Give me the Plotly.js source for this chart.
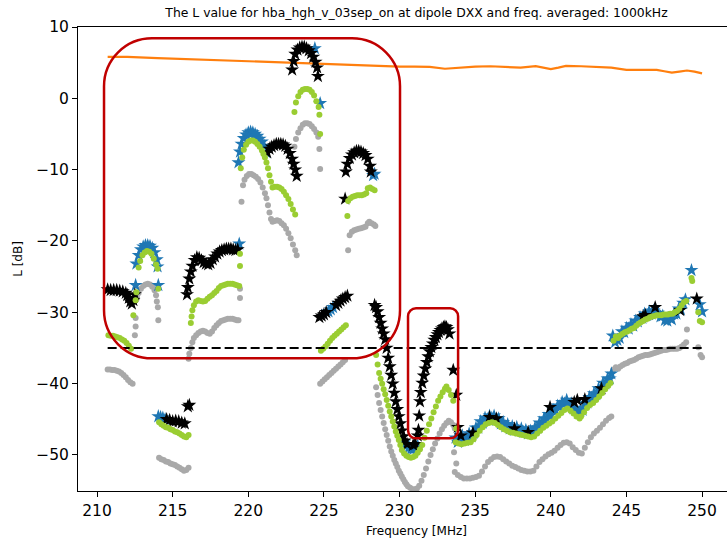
<!DOCTYPE html>
<html>
<head>
<meta charset="utf-8">
<script src="https://cdn.plot.ly/plotly-3.0.1.min.js"></script>
<style>
html, body { margin: 0; padding: 0; overflow: hidden; background: #fff; }
#chart { width: 760px; height: 545px; }
</style>
</head>
<body>
<div id="chart"></div>
<script>
// ---- measured L values [dB] versus frequency [MHz] ----

// reference level (orange)
const refFreq = [210.7, 212, 214, 216, 218, 220, 222, 224, 226, 228, 230, 231, 232, 233, 234, 235, 236, 237, 238, 239, 240, 240.5, 241, 242, 243, 244, 245, 246, 247, 247.5, 248, 248.5, 249, 249.5, 250];
const refL = [5.8, 5.8, 5.65, 5.5, 5.35, 5.2, 5.0, 4.85, 4.7, 4.55, 4.45, 4.45, 4.4, 4.15, 4.35, 4.45, 4.5, 4.45, 4.3, 4.5, 4.1, 4.3, 4.55, 4.5, 4.4, 4.3, 4.0, 4.05, 4.0, 3.8, 3.6, 3.75, 3.9, 3.75, 3.5];

// threshold (dashed)
const limitFreq = [210.7, 250.0];
const limitL = [-35, -35];

// gray points
const grayFreq = [
  210.7, 210.85, 211.0, 211.15, 211.3, 211.45, 211.6, 211.75, 211.9, 212.05, 212.2, 212.35,
  212.55, 212.55, 212.5,
  212.65, 212.75, 212.9, 213.05, 213.2, 213.35, 213.5, 213.65, 213.8, 213.9, 213.95, 214.02, 214.05,
  214.1, 214.25, 214.4, 214.55, 214.7, 214.85, 215.0, 215.15, 215.3, 215.45, 215.6, 215.75, 215.9, 216.05,
  216.05, 216.1, 216.2, 216.3, 216.4, 216.55, 216.7, 216.85, 217.0, 217.15, 217.3, 217.45, 217.6, 217.75, 217.9, 218.05, 218.2, 218.35, 218.5, 218.65, 218.8, 218.95, 219.1, 219.25, 219.35, 219.45, 219.45,
  219.55, 219.65, 219.75, 219.9, 220.05, 220.2, 220.35, 220.5, 220.65, 220.8, 220.95, 221.1, 221.2, 221.3, 221.4, 221.5, 221.6, 221.75, 221.9, 222.05, 222.2, 222.35, 222.5, 222.65, 222.8, 222.95, 223.1, 223.2,
  223.05, 223.15, 223.3, 223.45, 223.6, 223.75, 223.9, 224.05, 224.2, 224.35, 224.5, 224.62, 224.7, 224.75,
  224.75, 224.9, 225.05, 225.2, 225.35, 225.5, 225.65, 225.8, 225.95, 226.1, 226.25, 226.4,
  226.6, 226.7, 226.85, 227.0, 227.15, 227.3, 227.45, 227.6, 227.75, 227.9, 228.0, 228.15, 228.3, 228.4,
  228.45, 228.55, 228.65, 228.75, 228.85, 228.95, 229.05, 229.15, 229.25, 229.35, 229.45, 229.55, 229.65, 229.75, 229.85, 229.95, 230.05, 230.15, 230.25, 230.35, 230.45, 230.55, 230.7, 230.85, 231.0, 231.15, 231.3, 231.45, 231.6, 231.75, 231.9, 232.05, 232.2, 232.35, 232.5, 232.65, 232.8, 232.95, 233.1, 233.25, 233.4, 233.55, 233.65, 233.6, 233.75,
  233.65, 233.85, 234.05, 234.25, 234.45, 234.65, 234.85, 235.05, 235.25, 235.45, 235.65, 235.85, 236.05, 236.25, 236.45, 236.65, 236.85, 237.05, 237.25, 237.45, 237.65, 237.85, 238.05, 238.25, 238.45, 238.65, 238.85, 239.05, 239.25, 239.45, 239.65, 239.85, 240.05, 240.25, 240.45, 240.65, 240.85, 241.05, 241.25, 241.45, 241.65, 241.85, 242.05, 242.25, 242.45, 242.65, 242.85, 243.05, 243.25, 243.45, 243.65, 243.85, 244.0,
  244.15, 244.3, 244.45, 244.6, 244.75, 244.9, 245.05, 245.2, 245.35, 245.5, 245.65, 245.8, 245.95, 246.1, 246.25, 246.4, 246.55, 246.7, 246.85, 247.0, 247.15, 247.3, 247.45, 247.6, 247.75, 247.9, 248.05, 248.2, 248.35, 248.5, 248.65, 248.8, 248.95, 249.0, 249.75, 249.9, 250.0
];
const grayL = [
  -38.0, -38.0, -38.1, -38.1, -38.2, -38.3, -38.5, -38.8, -39.1, -39.5, -39.8, -40.0,
  -30.8, -32.0, -33.2,
  -28.0, -27.3, -26.7, -26.3, -26.1, -26.0, -26.1, -26.4, -26.9, -27.6, -28.5, -29.3, -31.1,
  -50.4, -50.6, -50.7, -50.9, -51.0, -51.2, -51.3, -51.4, -51.6, -51.8, -52.0, -52.2, -52.1, -51.8,
  -36.5, -35.8, -35.0, -34.2, -33.6, -33.2, -32.9, -32.7, -32.6, -32.7, -32.9, -33.0, -32.7, -32.2, -31.8, -31.5, -31.2, -31.1, -31.0, -30.9, -30.9, -30.9, -31.0, -31.1, -31.1, -28.0, -26.7,
  -14.5, -12.2, -11.4, -10.9, -10.6, -10.6, -10.8, -11.0, -11.3, -11.8, -12.5, -13.3, -14.0, -15.0, -16.0, -16.9, -17.3, -17.2, -17.1, -17.2, -17.5, -17.8, -18.3, -18.9, -19.6, -20.5, -21.3, -22.0,
  -6.8, -5.7, -4.8, -4.2, -3.7, -3.5, -3.5, -3.6, -3.9, -4.3, -4.8, -5.4, -7.1, -9.9,
  -40.0, -39.7, -39.4, -39.1, -38.8, -38.5, -38.2, -37.9, -37.6, -37.3, -37.0, -36.7,
  -21.3, -19.2, -18.7, -18.5, -18.4, -18.3, -18.2, -18.1, -18.0, -17.5, -17.3, -17.5, -17.7, -17.9,
  -40.5, -41.6, -42.7, -43.7, -44.6, -45.5, -46.4, -47.2, -48.0, -48.8, -49.5, -50.1, -50.7, -51.2, -51.7, -52.2, -52.6, -53.0, -53.4, -53.8, -54.1, -54.4, -54.6, -54.8, -54.8, -54.7, -54.3, -53.6, -52.8, -51.9, -50.9, -50.0, -49.2, -48.4, -47.7, -47.0, -46.4, -45.9, -45.5, -45.2, -45.4, -45.8, -46.3, -49.6, -51.2,
  -52.4, -52.8, -53.1, -53.3, -53.3, -53.3, -53.2, -53.1, -52.9, -52.3, -51.6, -51.0, -50.6, -50.3, -50.2, -50.3, -50.6, -50.9, -51.2, -51.5, -51.7, -51.9, -52.1, -52.2, -52.3, -52.3, -52.2, -51.6, -51.0, -50.6, -50.2, -49.9, -49.7, -49.4, -49.0, -48.6, -48.3, -48.2, -48.4, -48.9, -49.3, -49.7, -49.8, -49.0, -48.2, -47.5, -47.0, -46.6, -46.2, -45.7, -45.2, -44.8, -44.6,
  -38.0, -37.7, -37.9, -37.6, -37.4, -37.2, -37.1, -36.9, -36.8, -36.7, -36.5, -36.3, -36.2, -36.1, -36.0, -36.0, -35.9, -35.8, -35.7, -35.6, -35.5, -35.4, -35.3, -35.3, -35.2, -35.1, -35.1, -35.1, -35.1, -35.0, -34.8, -34.5, -34.2, -32.4, -34.9, -36.0, -36.3
];

// green points
const greenFreq = [
  210.75, 210.9, 211.05, 211.2, 211.35, 211.5, 211.65, 211.8, 211.95, 212.1, 212.25,
  212.4, 212.55, 212.6,
  212.75, 212.85, 213.0, 213.15, 213.3, 213.45, 213.6, 213.75, 213.9, 214.0, 214.05,
  214.1, 214.25, 214.4, 214.55, 214.7, 214.85, 215.0, 215.15, 215.3, 215.45, 215.6, 215.75, 215.9, 216.05,
  216.2, 216.25, 216.3, 216.4, 216.55, 216.7, 216.85, 217.0, 217.15, 217.3, 217.45, 217.6, 217.75, 217.9, 218.05, 218.2, 218.35, 218.5, 218.65, 218.8, 218.95, 219.1, 219.25, 219.4, 219.45, 219.45,
  219.5, 219.6, 219.7, 219.85, 220.0, 220.15, 220.3, 220.45, 220.6, 220.75, 220.9, 221.0, 221.1, 221.2, 221.3, 221.4, 221.5, 221.6, 221.75, 221.9, 222.05, 222.2, 222.35, 222.5, 222.65, 222.8, 222.95, 223.1,
  223.05, 223.15, 223.3, 223.45, 223.6, 223.75, 223.9, 224.05, 224.2, 224.35, 224.5, 224.65, 224.7, 224.75,
  224.8, 224.95, 225.1, 225.25, 225.4, 225.55, 225.7, 225.85, 226.0, 226.15, 226.3, 226.45,
  226.55, 226.6, 226.75, 226.9, 227.05, 227.2, 227.35, 227.5, 227.65, 227.8, 227.9, 228.05, 228.2, 228.35,
  228.45, 228.55, 228.65, 228.75, 228.85, 228.95, 229.05, 229.15, 229.25, 229.35, 229.45, 229.55, 229.65, 229.75, 229.85, 229.95, 230.05, 230.15, 230.3, 230.45, 230.6, 230.75, 230.9, 231.05, 231.2, 231.35, 231.5, 231.65, 231.8, 231.95, 232.1, 232.25, 232.4, 232.55, 232.7, 232.85, 233.0, 233.1, 233.25, 233.4, 233.55, 233.75,
  233.7, 233.9, 234.1, 234.3, 234.5, 234.7, 234.9, 235.1, 235.3, 235.5, 235.7, 235.9, 236.1, 236.3, 236.5, 236.7, 236.9, 237.1, 237.3, 237.5, 237.7, 237.9, 238.1, 238.3, 238.5, 238.7, 238.9, 239.1, 239.3, 239.5, 239.7, 239.9, 240.1, 240.3, 240.5, 240.7, 240.9, 241.1, 241.3, 241.5, 241.7, 241.9, 242.0, 242.2, 242.4, 242.6, 242.8, 243.0, 243.2, 243.4, 243.6, 243.8, 243.95,
  244.15, 244.3, 244.45, 244.6, 244.75, 244.9, 245.05, 245.2, 245.35, 245.5, 245.65, 245.8, 245.95, 246.1, 246.25, 246.4, 246.55, 246.7, 246.85, 247.0, 247.15, 247.3, 247.45, 247.6, 247.75, 247.9, 248.05, 248.2, 248.35, 248.5, 248.65, 248.8, 248.95, 249.3, 249.35, 249.75, 249.85, 250.0
];
const greenL = [
  -33.2, -33.3, -33.3, -33.4, -33.5, -33.6, -33.8, -34.0, -34.3, -34.7, -35.1,
  -30.4, -28.3, -27.2,
  -23.7, -22.8, -22.0, -21.6, -21.4, -21.5, -21.8, -22.5, -23.3, -23.9, -26.7,
  -45.4, -45.7, -45.9, -46.1, -46.2, -46.4, -46.5, -46.7, -46.8, -47.0, -47.2, -47.4, -47.5, -47.2,
  -31.5, -30.6, -29.7, -29.0, -28.5, -28.3, -28.4, -28.5, -28.4, -28.1, -27.8, -27.6, -27.3, -27.0, -26.6, -26.3, -26.2, -26.1, -26.0, -26.0, -26.0, -26.1, -26.2, -26.3, -23.5, -21.8,
  -9.8, -8.3, -7.2, -6.5, -6.1, -5.9, -5.9, -6.1, -6.4, -6.8, -7.3, -7.8, -8.3, -9.0, -9.8, -10.8, -11.7, -12.5, -12.4, -12.4, -12.5, -12.7, -13.1, -13.6, -14.1, -14.8, -15.6, -16.3,
  -1.9, -0.6, 0.3, 0.9, 1.2, 1.3, 1.3, 1.2, 0.9, 0.4, -0.4, -1.2, -2.3, -5.0,
  -35.4, -35.1, -34.8, -34.4, -34.0, -33.6, -33.3, -33.0, -32.7, -32.4, -32.1, -31.8,
  -16.5, -14.4, -14.0, -13.8, -13.7, -13.6, -13.6, -13.6, -13.5, -13.3, -12.6, -12.5, -12.7, -12.9,
  -36.0, -37.3, -38.5, -39.3, -40.0, -40.8, -41.5, -42.3, -43.1, -43.9, -44.6, -45.3, -46.0, -46.7, -47.3, -47.9, -48.6, -49.3, -49.8, -50.1, -50.3, -50.4, -50.3, -50.1, -49.7, -49.2, -48.6, -47.6, -46.6, -45.7, -44.9, -44.0, -43.2, -42.4, -41.8, -41.2, -40.7, -40.4, -40.9, -41.6, -42.4, -46.3,
  -48.2, -48.4, -48.5, -48.4, -48.3, -48.2, -47.8, -47.2, -46.6, -46.1, -45.7, -45.5, -45.4, -45.5, -45.8, -46.1, -46.4, -46.6, -46.8, -46.9, -47.0, -47.1, -47.2, -47.3, -47.4, -47.5, -47.4, -47.0, -46.6, -46.2, -45.9, -45.6, -45.3, -44.9, -44.5, -44.1, -43.7, -43.5, -43.8, -44.2, -44.6, -44.9, -44.6, -44.0, -43.4, -43.0, -42.7, -42.3, -41.8, -41.3, -40.8, -40.3, -39.9,
  -34.0, -33.4, -33.6, -33.2, -33.0, -32.8, -32.7, -32.5, -32.3, -32.2, -31.9, -31.6, -31.4, -31.2, -31.0, -30.9, -30.7, -30.6, -30.5, -30.4, -30.4, -30.4, -30.3, -30.3, -30.3, -30.2, -30.2, -30.0, -29.8, -29.5, -29.0, -28.6, -28.4, -25.2, -25.6, -30.0, -31.2, -31.4
];

// blue stars
const blueFreq = [
  212.55, 212.6, 212.75, 212.9, 213.05, 213.2, 213.35, 213.5, 213.65, 213.8, 213.95, 214.0, 214.05,
  214.05, 214.2, 214.35, 214.5,
  219.4,
  219.35, 219.45, 219.55, 219.7, 219.85, 220.0, 220.15, 220.3, 220.45, 220.6, 220.75, 220.9, 221.05, 221.2,
  224.4, 224.75,
  225.3, 225.45, 225.6,
  228.25, 228.35,
  230.3, 230.45, 230.6, 230.75, 230.9, 231.05, 231.2,
  233.7, 233.85, 234.0, 234.15, 234.3, 234.45, 234.6, 234.75, 234.9, 235.05, 235.2, 235.35, 235.5, 235.65, 235.8, 235.95, 236.1, 236.25, 236.4, 236.55, 236.7, 236.85, 237.0, 237.15, 237.3, 237.45, 237.6, 237.75, 237.9, 238.05, 238.2, 238.35, 238.5, 238.65, 238.8, 238.95, 239.1, 239.25, 239.4, 239.55, 239.7, 239.85, 240.0, 240.15, 240.3, 240.45, 240.6, 240.75, 240.9, 241.05, 241.2, 241.35, 241.5, 241.65, 241.8, 241.95, 242.1, 242.25, 242.4, 242.55, 242.7, 242.85, 243.0, 243.15, 243.3, 243.45, 243.6, 243.75, 243.9, 244.0,
  244.1, 244.25, 244.4, 244.55, 244.7, 244.85, 245.0, 245.15, 245.3, 245.45, 245.6, 245.75, 245.9, 246.05, 246.2, 246.35, 246.5, 246.65, 246.8, 246.95, 247.1, 247.25, 247.4, 247.55, 247.7, 247.85, 248.0, 248.15, 248.3, 248.45, 248.6, 248.75, 248.9, 249.3, 249.85, 250.0
];
const blueL = [
  -26.2, -23.2, -22.0, -21.2, -20.8, -20.6, -20.6, -20.7, -21.0, -21.6, -22.6, -23.6, -26.2,
  -44.6, -44.7, -44.8, -45.0,
  -20.4,
  -9.0, -7.5, -6.4, -5.6, -5.1, -4.8, -4.7, -4.8, -5.0, -5.3, -5.7, -6.1, -6.7, -7.6,
  7.0, -0.7,
  -29.9, -29.6, -29.3,
  -10.8, -10.6,
  -48.3, -48.7, -49.0, -49.2, -49.2, -49.0, -48.7,
  -47.6, -48.2, -47.8, -47.3, -47.9, -47.5, -47.0, -47.4, -46.9, -46.2, -46.2, -45.3, -45.5, -44.8, -45.0, -44.5, -44.8, -44.5, -45.1, -44.9, -45.6, -45.4, -46.0, -45.7, -46.3, -46.0, -46.5, -46.1, -46.6, -46.3, -46.8, -46.5, -47.0, -46.6, -46.8, -46.2, -46.2, -45.5, -45.6, -44.9, -45.0, -44.3, -44.4, -43.7, -43.8, -43.1, -43.2, -42.6, -42.8, -42.3, -42.9, -42.8, -43.5, -43.4, -44.1, -43.8, -43.7, -42.8, -42.7, -41.9, -42.0, -41.4, -41.5, -40.7, -40.7, -39.9, -40.0, -39.3, -39.3, -38.6,
  -33.3, -34.2, -33.9, -33.6, -32.7, -32.8, -32.2, -32.3, -31.7, -31.9, -31.2, -31.3, -30.7, -30.8, -30.2, -30.4, -29.9, -30.2, -29.8, -30.3, -30.1, -30.6, -30.5, -31.1, -31.2, -30.8, -31.0, -30.2, -30.2, -29.5, -29.6, -28.7, -28.2, -24.1, -28.9, -29.9
];

// black stars
const blackFreq = [
  210.7, 210.9, 211.1, 211.3, 211.5, 211.7, 211.9, 212.0, 212.1, 212.2, 212.3, 212.4, 212.5,
  214.6, 214.8, 215.0, 215.2, 215.4, 215.6, 215.8, 216.0, 216.1,
  215.95, 216.0, 216.1, 216.2, 216.3, 216.45, 216.6, 216.75, 216.9, 217.05, 217.2, 217.35, 217.5, 217.65, 217.8, 217.95, 218.1, 218.25, 218.4, 218.55, 218.7, 218.85, 219.0, 219.15, 219.3,
  221.25, 221.4, 221.55, 221.7, 221.85, 222.0, 222.15, 222.3, 222.45, 222.6, 222.75, 222.9, 223.0, 223.1, 223.2,
  222.9, 223.0, 223.1, 223.25, 223.4, 223.55, 223.7, 223.85, 224.0, 224.15, 224.3, 224.45, 224.55, 224.6,
  224.7, 224.85, 225.0, 225.15, 225.8, 225.95, 226.1, 226.25, 226.4, 226.55,
  226.4, 226.45, 226.55, 226.7, 226.85, 227.0, 227.15, 227.3, 227.45, 227.6, 227.75, 227.9, 228.05, 228.1,
  228.35, 228.45, 228.55, 228.65, 228.75, 228.85, 228.95, 229.05, 229.15, 229.25, 229.35, 229.45, 229.55, 229.65, 229.75, 229.85, 229.95, 230.05, 230.15, 230.25, 230.35, 230.5, 230.9, 231.05, 231.2,
  231.25, 231.3, 231.35, 231.4, 231.5, 231.6, 231.7, 231.8, 231.9, 232.0, 232.1, 232.2, 232.3, 232.4, 232.5, 232.6, 232.7, 232.8, 232.9, 233.0, 233.1, 233.2, 233.3, 233.55, 233.75, 233.85,
  234.05, 234.85, 235.95, 236.4, 237.6, 238.5, 239.95, 241.55, 241.75, 242.25, 243.35,
  246.1, 246.25, 246.9, 248.55, 249.65
];
const blackL = [
  -26.8, -26.9, -26.9, -26.9, -27.0, -27.1, -27.3, -27.6, -28.0, -28.5, -28.8, -28.3, -27.5,
  -45.0, -45.1, -45.3, -45.2, -45.3, -45.5, -45.6, -43.2, -43.0,
  -27.5, -26.5, -25.3, -24.3, -23.5, -22.7, -22.3, -22.4, -22.7, -23.0, -23.2, -23.3, -23.1, -22.6, -22.2, -21.8, -21.5, -21.3, -21.2, -21.1, -21.1, -21.1, -21.2, -21.3, -21.2,
  -7.6, -7.1, -6.8, -6.6, -6.4, -6.4, -6.4, -6.5, -6.7, -7.1, -7.7, -8.5, -9.2, -10.0, -10.9,
  4.0, 5.2, 6.2, 6.8, 7.1, 7.2, 7.2, 7.0, 6.7, 6.3, 5.8, 5.1, 4.3, 3.1,
  -30.7, -30.5, -30.3, -30.0, -29.0, -28.7, -28.4, -28.1, -27.9, -27.7,
  -14.1, -10.3, -9.2, -8.4, -7.9, -7.6, -7.4, -7.4, -7.5, -7.7, -8.0, -8.5, -9.5, -10.3,
  -29.0, -29.3, -29.9, -30.7, -31.5, -32.3, -33.0, -33.8, -35.0, -36.4, -37.6, -38.8, -40.0, -41.3, -42.5, -43.6, -44.6, -45.6, -46.6, -47.4, -48.0, -48.5, -48.6, -48.5, -47.3,
  -46.5, -44.5, -42.5, -41.2, -39.9, -38.9, -37.9, -37.0, -36.2, -35.5, -34.9, -34.4, -33.9, -33.5, -33.1, -32.8, -32.5, -32.3, -32.1, -32.0, -32.1, -32.4, -33.0, -38.1, -41.6, -46.1,
  -47.3, -46.9, -44.7, -44.9, -46.3, -46.8, -43.3, -42.6, -42.3, -42.2, -40.7,
  -30.6, -30.4, -29.3, -29.7, -28.1
];

// highlighted frequency windows (rounded outlines)
const highlightBoxes = [
  { x0: 210.46, x1: 230.03, y0: -36.45, y1: 8.41, radius: 48 },
  { x0: 230.56, x1: 233.87, y0: -47.67, y1: -29.44, radius: 8 }
];

// ---- layout geometry ----
const W = 760, H = 545;
const M = { l: 78, r: 5, t: 27, b: 54 };
const X_RANGE = [208.74, 253.5];
const Y_RANGE = [-55.05, 10];
const pxPerX = (W - M.l - M.r) / (X_RANGE[1] - X_RANGE[0]);
const pxPerY = (H - M.t - M.b) / (Y_RANGE[1] - Y_RANGE[0]);

function roundedBoxPath(b) {
  const rx = b.radius / pxPerX, ry = b.radius / pxPerY, k = 0.5523;
  const { x0, x1, y0, y1 } = b;
  return [
    `M${x0 + rx},${y1}`,
    `L${x1 - rx},${y1}`,
    `C${x1 - rx + k * rx},${y1} ${x1},${y1 - ry + k * ry} ${x1},${y1 - ry}`,
    `L${x1},${y0 + ry}`,
    `C${x1},${y0 + ry - k * ry} ${x1 - rx + k * rx},${y0} ${x1 - rx},${y0}`,
    `L${x0 + rx},${y0}`,
    `C${x0 + rx - k * rx},${y0} ${x0},${y0 + ry - k * ry} ${x0},${y0 + ry}`,
    `L${x0},${y1 - ry}`,
    `C${x0},${y1 - ry + k * ry} ${x0 + rx - k * rx},${y1} ${x0 + rx},${y1}`,
    'Z'
  ].join(' ');
}

const FONT = 'DejaVu Sans, Arial, sans-serif';

const traces = [
  { x: refFreq, y: refL, mode: 'lines', line: { color: '#ff7f0e', width: 2.2 } },
  { x: grayFreq, y: grayL, mode: 'markers', marker: { color: '#a9a9a9', size: 6 } },
  { x: blueFreq, y: blueL, mode: 'markers', marker: { color: '#1f77b4', size: 10.5, symbol: 'star', line: { width: 0 } } },
  { x: blackFreq, y: blackL, mode: 'markers', marker: { color: '#000000', size: 10.5, symbol: 'star', line: { width: 0 } } },
  { x: greenFreq, y: greenL, mode: 'markers', marker: { color: '#9acd32', size: 6 } },
  { x: limitFreq, y: limitL, mode: 'lines', line: { color: '#000000', width: 2.2, dash: '9px,4px' } }
].map(t => Object.assign({ type: 'scatter', hoverinfo: 'skip', cliponaxis: true }, t));

const axisCommon = {
  showgrid: false, zeroline: false, showline: true, mirror: true,
  linecolor: '#000', linewidth: 1, ticks: 'outside', ticklen: 5, tickwidth: 1,
  tickcolor: '#000', tickfont: { family: FONT, size: 15.5, color: '#000' }
};

const layout = {
  width: W, height: H,
  margin: M,
  paper_bgcolor: '#fff', plot_bgcolor: '#fff',
  showlegend: false,
  font: { family: FONT, color: '#000' },
  title: {
    text: 'The L value for hba_hgh_v_03sep_on at dipole DXX and freq. averaged: 1000kHz',
    font: { family: FONT, size: 12.4, color: '#000' },
    xref: 'paper', x: 0.5, xanchor: 'center',
    yref: 'container', y: 1 - 13 / H, yanchor: 'middle'
  },
  xaxis: Object.assign({}, axisCommon, {
    range: X_RANGE, tick0: 210, dtick: 5, autorange: false,
    title: { text: 'Frequency [MHz]', font: { family: FONT, size: 12, color: '#000' }, standoff: 8 }
  }),
  yaxis: Object.assign({}, axisCommon, {
    range: Y_RANGE, tick0: -50, dtick: 10, autorange: false,
    title: { text: 'L [dB]', font: { family: FONT, size: 12, color: '#000' }, standoff: 10 }
  }),
  shapes: highlightBoxes.map(b => ({
    type: 'path', xref: 'x', yref: 'y', layer: 'above',
    path: roundedBoxPath(b),
    line: { color: '#c00000', width: 2.5 }, fillcolor: 'rgba(0,0,0,0)'
  }))
};

Plotly.newPlot('chart', traces, layout, { staticPlot: true, displayModeBar: false });
</script>
</body>
</html>
